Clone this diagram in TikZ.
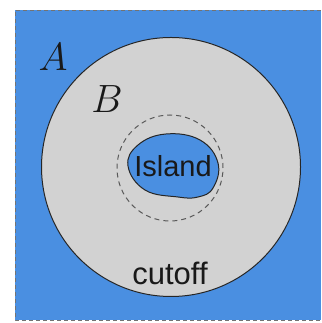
\documentclass[tikz,border=0pt]{standalone}
\usepackage{fontspec}
\setsansfont{Liberation Sans}
\begin{document}
\begin{tikzpicture}[x=1pt,y=1pt,
  lbl/.style={font=\sffamily\fontsize{29}{31}\selectfont, text=black!90, inner sep=0pt},
  mlbl/.style={font=\fontsize{20}{22}\selectfont, text=black!90, inner sep=0pt, scale=1.9}]
\definecolor{blueA}{RGB}{74,143,225}
\definecolor{grayB}{RGB}{210,210,210}
\useasboundingbox (0,0) rectangle (321,323);
\fill[blueA] (15,3) rectangle (321,313);
\draw[black!55, dash pattern=on 4pt off 3pt, line width=0.8pt] (321,313) -- (15,313) -- (15,3) -- (321,3);
\draw[fill=grayB, draw=black!85, line width=1pt] (171,156) circle (129.5);
\draw[black!65, dash pattern=on 5pt off 4pt, line width=1pt] (170,155) circle (53);
\draw[fill=blueA, draw=black!85, line width=1pt] plot[smooth cycle, tension=0.7] coordinates
  {(128,157) (138,178) (166,189) (200,183) (218,160) (213,135) (198,126) (178,126) (145,133)};
\node[lbl] (island) at (173,157) {Island};
\node[lbl, font=\sffamily\fontsize{31}{33}\selectfont] (cutoff) at (170,50) {cutoff};
\node[mlbl] (A) at (53,266) {$A$};
\node[mlbl] (B) at (107,224) {$B$};
\end{tikzpicture}
\end{document}
